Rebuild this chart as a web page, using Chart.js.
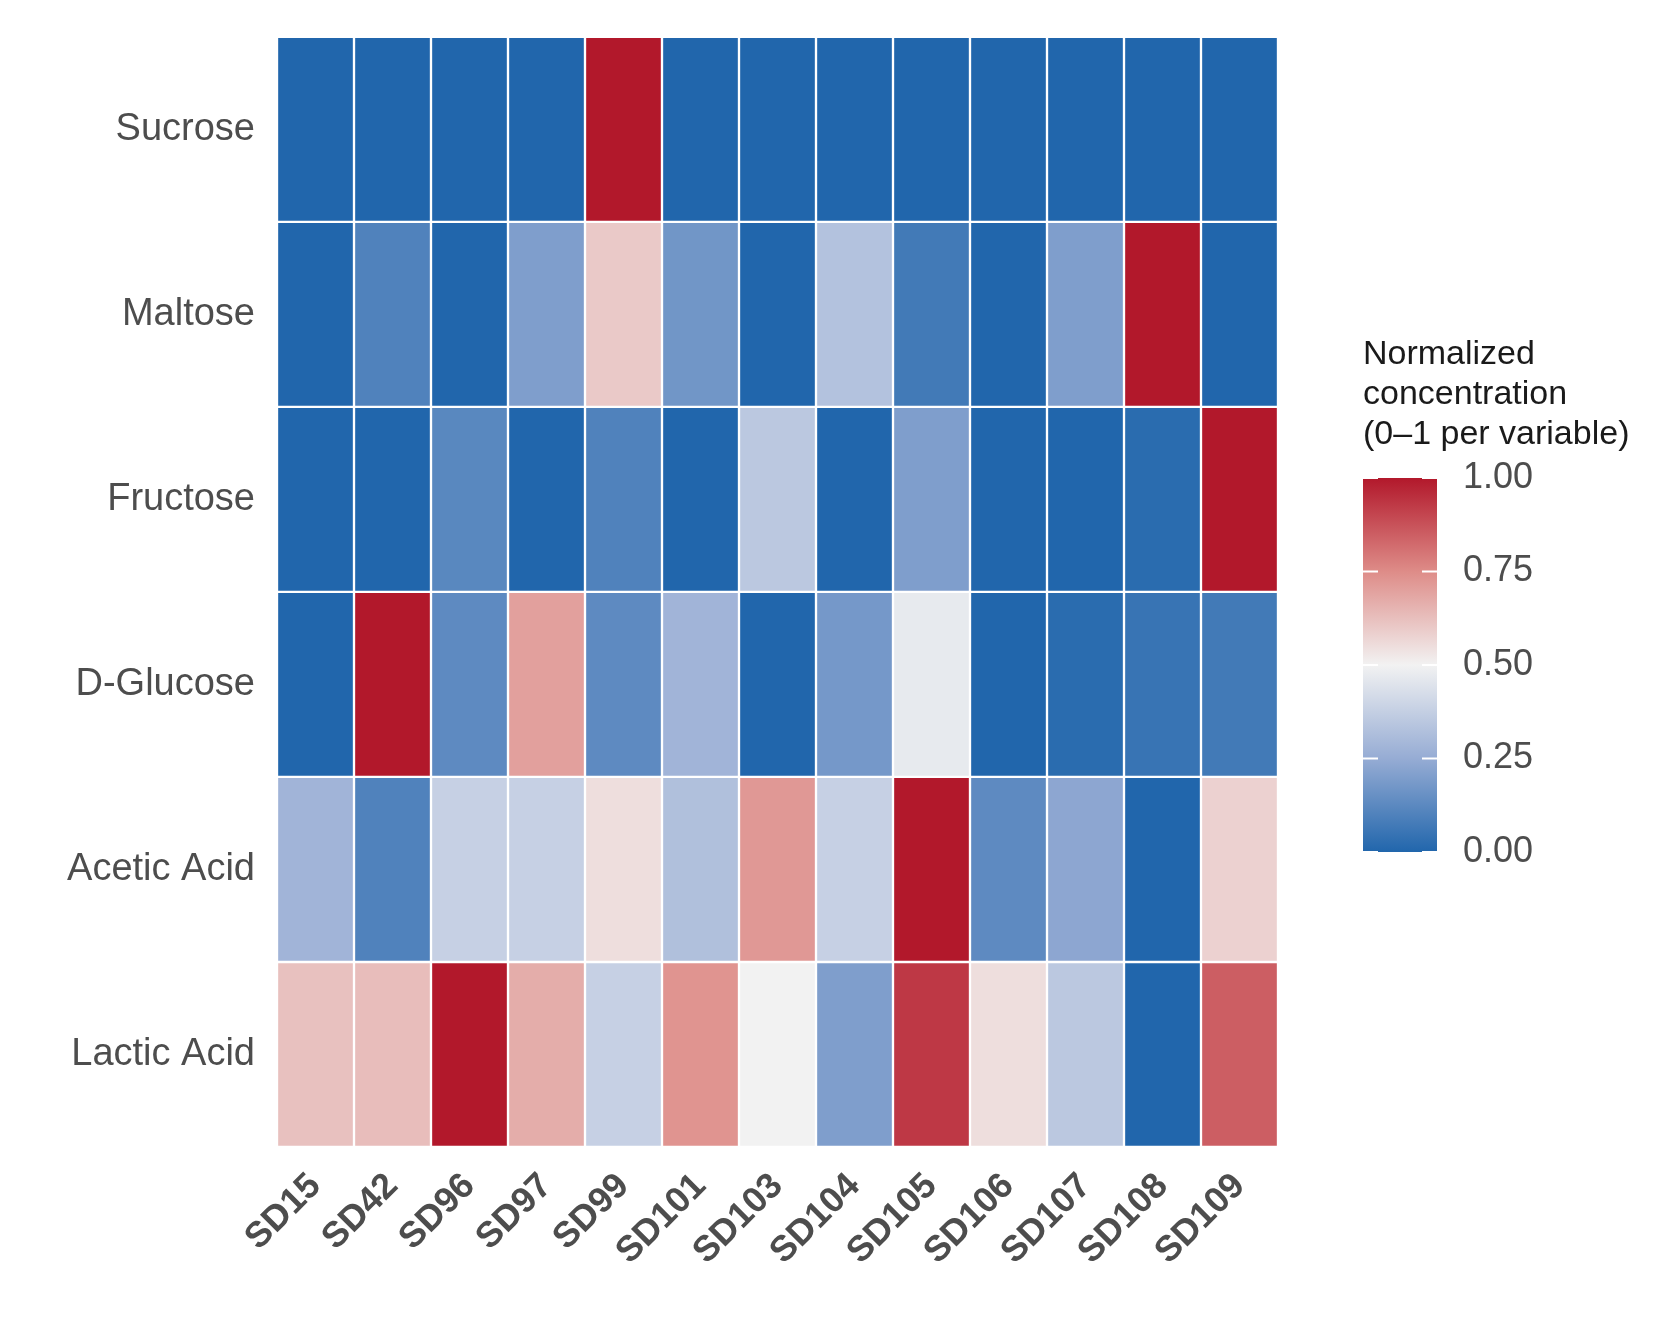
<!DOCTYPE html>
<html>
<head>
<meta charset="utf-8">
<script src="https://cdn.jsdelivr.net/npm/chart.js@4"></script>
<style>body{margin:0;background:#fff}</style>
</head>
<body>
<canvas id="heat" width="1673" height="1336"></canvas>
<script>
const samples = ['SD15','SD42','SD96','SD97','SD99','SD101','SD103','SD104','SD105','SD106','SD107','SD108','SD109'];
const variables = ['Sucrose','Maltose','Fructose','D-Glucose','Acetic Acid','Lactic Acid'];

const sucrose  = [0, 0, 0, 0, 1, 0, 0, 0, 0, 0, 0, 0, 0];
const maltose  = [0, 0.1, 0, 0.2, 0.6, 0.17, 0, 0.33, 0.07, 0, 0.2, 1, 0];
const fructose = [0, 0, 0.12, 0, 0.1, 0, 0.35, 0, 0.2, 0, 0, 0.02, 1];
const glucose  = [0, 1, 0.13, 0.7, 0.13, 0.28, 0, 0.18, 0.47, 0, 0.02, 0.05, 0.07];
const acetic   = [0.28, 0.1, 0.38, 0.38, 0.55, 0.32, 0.72, 0.38, 1, 0.13, 0.23, 0, 0.58];
const lactic   = [0.62, 0.63, 1, 0.67, 0.38, 0.73, 0.5, 0.2, 0.93, 0.55, 0.35, 0, 0.85];
const rows = [sucrose, maltose, fructose, glucose, acetic, lactic];

const legendTicks = [0, 0.25, 0.5, 0.75, 1];
const legendTitle = ['Normalized', 'concentration', '(0\u20131 per variable)'];

const stops = [
    [0, [33, 102, 172]],
    [0.25, [150, 172, 212]],
    [0.5, [242, 242, 242]],
    [0.75, [222, 140, 136]],
    [1, [178, 24, 43]],
];

const colorFor = (v) => {
    for (let i = 1; i < stops.length; i++) {
        if (v <= stops[i][0]) {
            const [a, ca] = stops[i - 1];
            const [b, cb] = stops[i];
            const t = (v - a) / (b - a);
            const c = ca.map((x, k) => Math.round(x + (cb[k] - x) * t));
            return `rgb(${c.join(',')})`;
        }
    }
    return 'rgb(178,24,43)';
};

const datasets = rows.map((vals, r) => ({
    label: variables[r],
    data: vals.map(() => [r, r + 1]),
    backgroundColor: vals.map(colorFor),
    borderColor: '#ffffff',
    borderWidth: 1.5,
    borderSkipped: false,
    barPercentage: 1,
    categoryPercentage: 1,
    grouped: false,
}));

const legendPlugin = {
    id: 'colorLegend',
    afterDraw(chart) {
        const ctx = chart.ctx;
        const x = 1363, w = 74, top = 478, bottom = 852;
        ctx.save();
        ctx.fillStyle = '#1a1a1a';
        ctx.font = '34px "Liberation Sans", Arial';
        ctx.textBaseline = 'alphabetic';
        legendTitle.forEach((line, i) => ctx.fillText(line, x, 364 + i * 40));
        const grad = ctx.createLinearGradient(0, bottom, 0, top);
        stops.forEach(([s, c]) => grad.addColorStop(s, `rgb(${c.join(',')})`));
        ctx.fillStyle = grad;
        ctx.fillRect(x, top, w, bottom - top);
        ctx.font = '36px "Liberation Sans", Arial';
        ctx.textBaseline = 'middle';
        legendTicks.forEach((t) => {
            const y = bottom - (bottom - top) * t;
            ctx.strokeStyle = '#ffffff';
            ctx.lineWidth = 2;
            ctx.beginPath();
            ctx.moveTo(x, y); ctx.lineTo(x + 15, y);
            ctx.moveTo(x + w - 15, y); ctx.lineTo(x + w, y);
            ctx.stroke();
            ctx.fillStyle = '#4d4d4d';
            ctx.fillText(t.toFixed(2), x + w + 26, y);
        });
        ctx.restore();
    },
};

new Chart(document.getElementById('heat'), {
    type: 'bar',
    data: { labels: samples, datasets },
    plugins: [legendPlugin],
    options: {
        responsive: false,
        animation: false,
        layout: { padding: { top: 34, right: 395 } },
        plugins: { legend: { display: false }, tooltip: { enabled: false } },
        scales: {
            x: {
                grid: { display: false },
                border: { display: false },
                ticks: {
                    maxRotation: 45,
                    minRotation: 45,
                    color: '#4d4d4d',
                    font: { size: 36, weight: 'bold', family: '"Liberation Sans", Arial' },
                    padding: 10,
                },
                afterFit: (s) => { s.height = 189; },
            },
            y: {
                min: 0,
                max: 6,
                reverse: true,
                grid: { display: false },
                border: { display: false },
                afterBuildTicks: (s) => {
                    s.ticks = variables.map((_, i) => ({ value: i + 0.5 }));
                },
                ticks: {
                    color: '#4d4d4d',
                    font: { size: 38, family: '"Liberation Sans", Arial' },
                    padding: 14,
                    callback: (v) => variables[Math.floor(v)],
                },
                afterFit: (s) => { s.width = 277; },
            },
        },
    },
});
</script>
</body>
</html>
